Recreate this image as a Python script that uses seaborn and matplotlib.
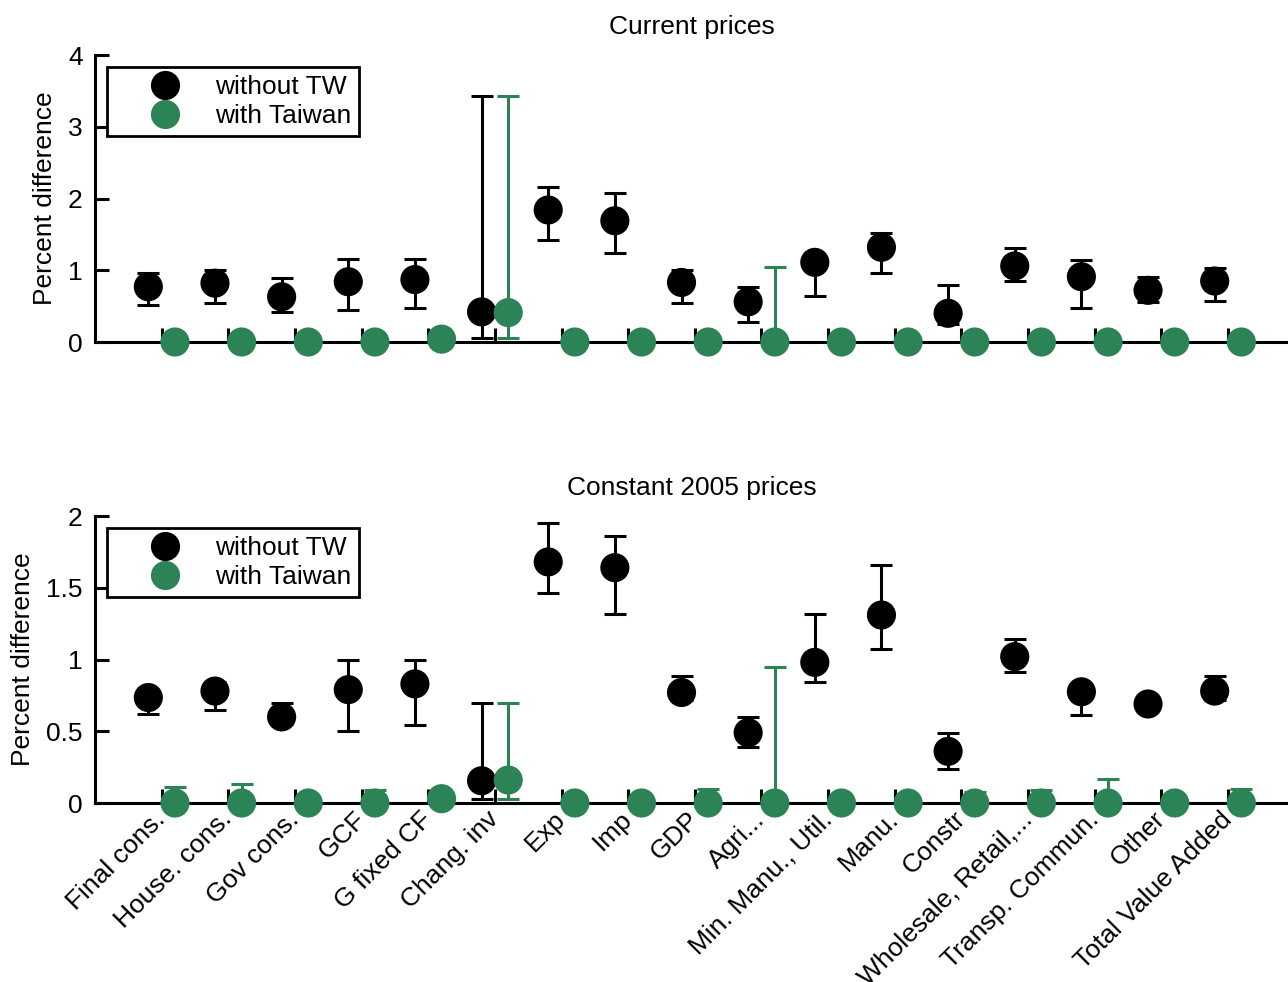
import numpy as np
import pandas as pd
import seaborn as sns
import matplotlib.pyplot as plt
from matplotlib.lines import Line2D

categories = ['Final cons.', 'House. cons.', 'Gov cons.', 'GCF', 'G fixed CF', 'Chang. inv', 'Exp', 'Imp', 'GDP',
              'Agri...', 'Min. Manu., Util.', 'Manu.', 'Constr', 'Wholesale, Retail,...', 'Transp. Commun.',
              'Other', 'Total Value Added']
series_names = ['without TW', 'with Taiwan']

# Current prices
cur_without = [0.77, 0.82, 0.63, 0.84, 0.87, 0.42, 1.84, 1.69, 0.83, 0.56, 1.11, 1.32, 0.40, 1.06, 0.91, 0.72, 0.85]
cur_without_lo = [0.51, 0.54, 0.42, 0.45, 0.48, 0.05, 1.42, 1.24, 0.55, 0.28, 0.64, 0.96, 0.25, 0.85, 0.48, 0.56, 0.57]
cur_without_hi = [0.96, 1.00, 0.89, 1.15, 1.15, 3.43, 2.16, 2.08, 1.01, 0.76, 1.20, 1.52, 0.80, 1.31, 1.14, 0.91, 1.03]
cur_with = [0, 0, 0, 0, 0.04, 0.41, 0, 0, 0, 0, 0, 0, 0, 0, 0, 0, 0]
cur_with_lo = [0, 0, 0, 0, 0.04, 0.05, 0, 0, 0, 0, 0, 0, 0, 0, 0, 0, 0]
cur_with_hi = [0, 0, 0, 0, 0.04, 3.43, 0, 0, 0, 1.05, 0, 0, 0, 0, 0.05, 0, 0]

# Constant 2005 prices
con_without = [0.735, 0.78, 0.60, 0.79, 0.83, 0.155, 1.68, 1.64, 0.77, 0.49, 0.98, 1.31, 0.36, 1.02, 0.775, 0.69, 0.78]
con_without_lo = [0.62, 0.65, 0.55, 0.50, 0.545, 0.03, 1.46, 1.32, 0.72, 0.39, 0.84, 1.07, 0.24, 0.91, 0.61, 0.66,
                  0.72]
con_without_hi = [0.78, 0.84, 0.70, 1.00, 1.00, 0.70, 1.95, 1.86, 0.885, 0.60, 1.32, 1.66, 0.485, 1.14, 0.82, 0.72,
                  0.885]
con_with = [0, 0, 0, 0, 0.03, 0.16, 0, 0, 0, 0, 0, 0, 0, 0, 0, 0, 0]
con_with_lo = [0, 0, 0, 0, 0.03, 0.03, 0, 0, 0, 0, 0, 0, 0, 0, 0, 0, 0]
con_with_hi = [0.11, 0.13, 0, 0.09, 0.03, 0.70, 0, 0, 0.095, 0.95, 0, 0, 0.08, 0.09, 0.17, 0, 0.10]

GREEN = '#2c8456'
colors = {'without TW': 'black', 'with Taiwan': GREEN}
offsets = {'without TW': -0.2, 'with Taiwan': 0.2}
FS = 19


def build_frame(without, without_lo, without_hi, with_tw, with_lo, with_hi):
    rows = []
    for name, vals, lo, hi in [('without TW', without, without_lo, without_hi),
                               ('with Taiwan', with_tw, with_lo, with_hi)]:
        for i, cat in enumerate(categories):
            rows.append({'category': cat, 'pos': i + 1 + offsets[name], 'series': name,
                         'value': vals[i], 'lo': lo[i], 'hi': hi[i]})
    return pd.DataFrame(rows)


def draw_panel(ax, df, title, yticks, yticklabels, show_xlabels):
    for name in series_names:
        sub = df[df['series'] == name]
        ax.errorbar(sub['pos'], sub['value'], yerr=[sub['value'] - sub['lo'], sub['hi'] - sub['value']],
                    fmt='none', ecolor=colors[name], elinewidth=2.2, capsize=8, capthick=2.2, zorder=2,
                    clip_on=False)
    sns.scatterplot(data=df, x='pos', y='value', hue='series', palette=colors, hue_order=series_names,
                    s=440, edgecolor='none', linewidth=0, legend=False, ax=ax, zorder=3, clip_on=False)
    ax.set_xlim(0, 17.9)
    ax.set_ylim(yticks[0], yticks[-1])
    ax.set_yticks(yticks)
    ax.set_yticklabels(yticklabels)
    ax.set_xticks(np.arange(1, len(categories) + 1))
    if show_xlabels:
        ax.set_xticklabels(categories, rotation=45, ha='right', va='center', rotation_mode='anchor')
    else:
        ax.set_xticklabels([])
    ax.set_xlabel('')
    ax.set_ylabel('Percent difference', fontsize=FS, labelpad=8, color='black')
    ax.set_title(title, fontsize=FS, pad=15, color='black')
    ax.tick_params(bottom=True, left=True, direction='in', length=10, width=2.2, labelsize=FS, pad=9,
                   colors='black')
    for side in ['top', 'right']:
        ax.spines[side].set_visible(False)
    for side in ['left', 'bottom']:
        ax.spines[side].set_linewidth(2.2)
        ax.spines[side].set_color('black')
    handles = [Line2D([], [], marker='o', linestyle='', markersize=21, color=colors[n], markeredgewidth=0)
               for n in series_names]
    leg = ax.legend(handles, series_names, loc='upper left', bbox_to_anchor=(0.01, 0.958), fontsize=FS,
                    frameon=True, fancybox=False, edgecolor='black', framealpha=1, borderpad=0.3,
                    handlelength=3.8, handletextpad=0.0, labelspacing=0.2, borderaxespad=0, labelcolor='black')
    leg.get_frame().set_linewidth(2)


def plot_figure():
    sns.set_style('ticks')
    plt.rcParams['font.family'] = ['Liberation Sans', 'DejaVu Sans']
    plt.rcParams['text.color'] = 'black'
    fig = plt.figure(figsize=(12.88, 9.82), dpi=100)
    ax_top = fig.add_axes([0.07376, 0.65173, 0.92624, 0.29226])
    ax_bottom = fig.add_axes([0.07376, 0.18228, 0.92624, 0.29226])
    df_cur = build_frame(cur_without, cur_without_lo, cur_without_hi, cur_with, cur_with_lo, cur_with_hi)
    df_con = build_frame(con_without, con_without_lo, con_without_hi, con_with, con_with_lo, con_with_hi)
    draw_panel(ax_top, df_cur, 'Current prices', [0, 1, 2, 3, 4], ['0', '1', '2', '3', '4'], False)
    draw_panel(ax_bottom, df_con, 'Constant 2005 prices', [0, 0.5, 1, 1.5, 2], ['0', '0.5', '1', '1.5', '2'], True)
    fig.savefig('out.png', dpi=100)


if __name__ == '__main__':
    plot_figure()
